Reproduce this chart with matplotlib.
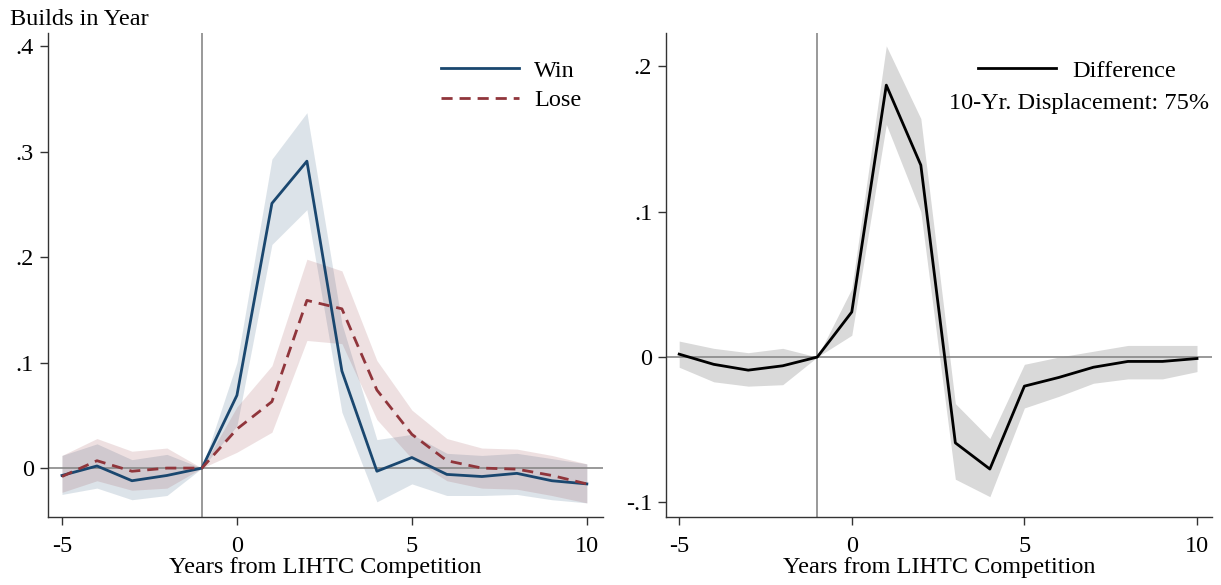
import numpy as np
import matplotlib
matplotlib.use("Agg")
import matplotlib.pyplot as plt
from matplotlib.lines import Line2D

plt.rcParams['font.family'] = ['Liberation Serif', 'DejaVu Serif']
plt.rcParams['font.size'] = 17.5

years = np.arange(-5, 11)

win = [-0.007, 0.002, -0.012, -0.007, 0.0, 0.069, 0.251, 0.291, 0.092, -0.003,
       0.010, -0.006, -0.008, -0.005, -0.012, -0.015]
win_hi = [0.012, 0.023, 0.008, 0.013, 0.0, 0.100, 0.293, 0.337, 0.137, 0.027,
          0.032, 0.014, 0.012, 0.014, 0.009, 0.004]
win_lo = [-0.025, -0.019, -0.030, -0.026, 0.0, 0.040, 0.212, 0.245, 0.053, -0.032,
          -0.015, -0.026, -0.026, -0.025, -0.030, -0.033]

lose = [-0.008, 0.007, -0.003, 0.0, 0.0, 0.037, 0.063, 0.159, 0.151, 0.074,
        0.032, 0.007, 0.0, -0.001, -0.007, -0.015]
lose_hi = [0.012, 0.028, 0.016, 0.019, 0.0, 0.058, 0.097, 0.198, 0.187, 0.102,
           0.055, 0.028, 0.019, 0.018, 0.012, 0.004]
lose_lo = [-0.023, -0.012, -0.021, -0.019, 0.0, 0.015, 0.034, 0.121, 0.118, 0.046,
           0.009, -0.012, -0.019, -0.020, -0.026, -0.033]

diff = [0.002, -0.005, -0.009, -0.006, 0.0, 0.031, 0.187, 0.132, -0.059, -0.077,
        -0.020, -0.014, -0.007, -0.003, -0.003, -0.001]
diff_hi = [0.011, 0.006, 0.003, 0.006, 0.0, 0.047, 0.214, 0.164, -0.032, -0.056,
           -0.005, 0.0, 0.004, 0.008, 0.008, 0.008]
diff_lo = [-0.007, -0.017, -0.020, -0.019, 0.0, 0.015, 0.160, 0.100, -0.084, -0.096,
           -0.035, -0.027, -0.018, -0.015, -0.015, -0.010]

navy = '#1a476f'
maroon = '#90353b'
axcol = '#333333'

fig = plt.figure(figsize=(12.21, 5.85), dpi=100)
ax1 = fig.add_axes([0.0393, 0.1162, 0.4545, 0.827])
ax2 = fig.add_axes([0.5455, 0.1162, 0.447, 0.827])


def style(ax):
    for s in ['top', 'right']:
        ax.spines[s].set_visible(False)
    for s in ['left', 'bottom']:
        ax.spines[s].set_color(axcol)
        ax.spines[s].set_linewidth(1.0)
    ax.tick_params(direction='out', length=6, width=1.0, color=axcol)
    ax.tick_params(axis='x', pad=8)
    ax.tick_params(axis='y', pad=4)
    ax.axhline(0, color='#888888', lw=1.2, zorder=1)
    ax.axvline(-1, color='#888888', lw=1.2, zorder=1)
    ax.set_xticks([-5, 0, 5, 10])
    ax.set_xticklabels(['-5', '0', '5', '10'])
    ax.set_xlabel('Years from LIHTC Competition', labelpad=0)


# left panel: win vs lose
ax1.fill_between(years, win_lo, win_hi, color=navy, alpha=0.15, lw=0)
ax1.fill_between(years, lose_lo, lose_hi, color=maroon, alpha=0.15, lw=0)
ax1.plot(years, win, color=navy, lw=2)
ax1.plot(years, lose, color=maroon, lw=2, ls=(0, (4, 2.5)))
style(ax1)
ax1.set_xlim(-5.4, 10.46)
ax1.set_ylim(-0.0464, 0.4123)
ax1.set_yticks([0, 0.1, 0.2, 0.3, 0.4])
ax1.set_yticklabels(['0', '.1', '.2', '.3', '.4'])
fig.text(10 / 1221, 1 - 25 / 585, 'Builds in Year', ha='left', va='baseline')
h = [Line2D([], [], color=navy, lw=2),
     Line2D([], [], color=maroon, lw=2, ls=(0, (4, 2.5)))]
ax1.legend(h, ['Win', 'Lose'], loc='upper right', frameon=False,
           handlelength=3.2, handletextpad=0.6, labelspacing=0.3,
           bbox_to_anchor=(1.0, 0.99))

# right panel: difference
ax2.fill_between(years, diff_lo, diff_hi, color='#d9d9d9', lw=0)
ax2.plot(years, diff, color='black', lw=2)
style(ax2)
ax2.set_xlim(-5.38, 10.43)
ax2.set_ylim(-0.110, 0.2227)
ax2.set_yticks([-0.1, 0, 0.1, 0.2])
ax2.set_yticklabels(['-.1', '0', '.1', '.2'])
ax2.legend([Line2D([], [], color='black', lw=2)], ['Difference'], loc='upper right',
           frameon=False, handlelength=3.2, handletextpad=0.7,
           bbox_to_anchor=(0.975, 0.99))
ax2.text(0.995, 0.855, '10-Yr. Displacement: 75%', transform=ax2.transAxes,
         ha='right', va='center')

fig.savefig('out.png', dpi=100)
